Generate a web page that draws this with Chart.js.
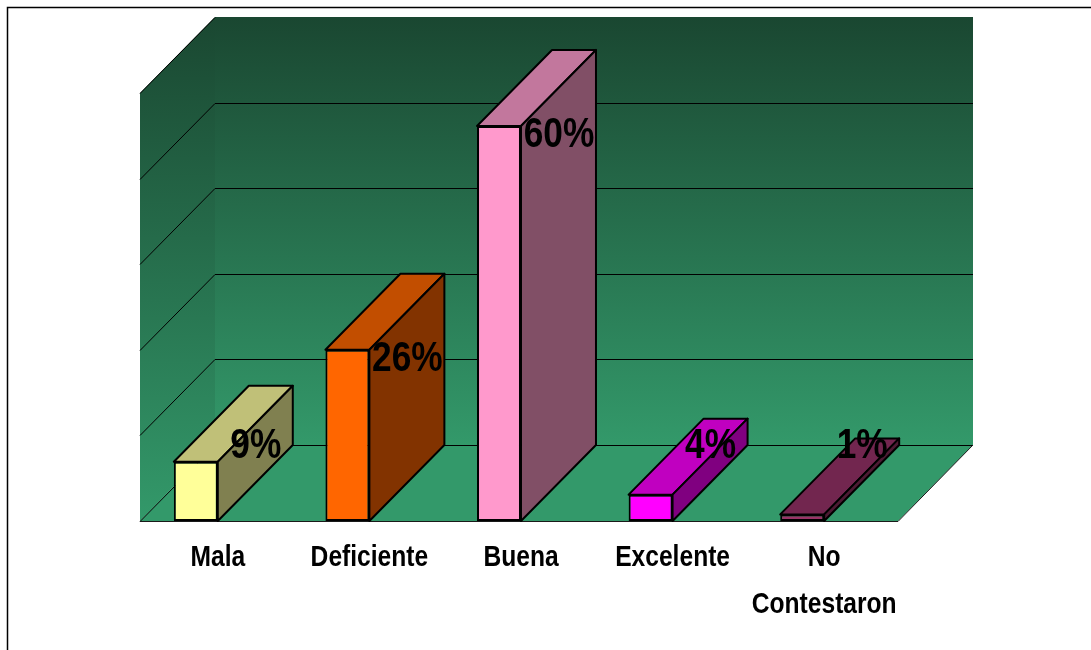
<!DOCTYPE html>
<html>
<head>
<meta charset="utf-8">
<script src="https://cdn.jsdelivr.net/npm/chart.js@4.4.0/dist/chart.umd.min.js"></script>
<style>
html,body{margin:0;padding:0;background:#fff;overflow:hidden;}
#wrap{width:1091px;height:650px;position:relative;}
</style>
</head>
<body>
<div id="wrap"><canvas id="c" width="1091" height="650"></canvas></div>
<script>
// ---- data ----
const categories = ['Mala', 'Deficiente', 'Buena', 'Excelente', ['No', 'Contestaron']];
const percentValues = [9, 26, 60, 4, 1];
const valueLabels = ['9%', '26%', '60%', '4%', '1%'];
const axisMax = 65;
const axisStep = 13;

// ---- styles ----
const frontColors = ['#FFFF99', '#FF6600', '#FF99CC', '#FF00FF', '#993366'];
const topColors   = ['#C0C078', '#C24E00', '#C2779D', '#C000C0', '#72264F'];
const sideColors  = ['#808050', '#823300', '#814F66', '#800080', '#4D1A33'];
const DEPTH_X = 75, DEPTH_Y = -76, SHIFT = 20, LABEL_SHIFT = 22;
const FONT = '"Liberation Sans", Arial, sans-serif';
const NARROW = 0.82;

function poly(ctx, pts, fill, stroke, lw) {
  ctx.beginPath();
  ctx.moveTo(pts[0][0], pts[0][1]);
  for (let i = 1; i < pts.length; i++) ctx.lineTo(pts[i][0], pts[i][1]);
  ctx.closePath();
  if (fill) { ctx.fillStyle = fill; ctx.fill(); }
  if (stroke) { ctx.strokeStyle = stroke; ctx.lineWidth = lw || 1; ctx.stroke(); }
}

// draw horizontally condensed text centred at x
function narrowText(ctx, text, x, y) {
  ctx.save();
  ctx.translate(x, y);
  ctx.scale(NARROW, 1);
  ctx.fillText(text, 0, 0);
  ctx.restore();
}

const scene = {
  id: 'scene',
  beforeDraw(chart) {
    const ctx = chart.ctx;
    ctx.save();
    ctx.fillStyle = '#fff';
    ctx.fillRect(0, 0, chart.width, chart.height);
    ctx.strokeStyle = '#000';
    ctx.lineWidth = 1.5;
    ctx.beginPath();
    ctx.moveTo(7.5, chart.height);
    ctx.lineTo(7.5, 7.5);
    ctx.lineTo(chart.width, 7.5);
    ctx.stroke();
    ctx.restore();
  },
  beforeDatasetsDraw(chart) {
    const ctx = chart.ctx, a = chart.chartArea, y = chart.scales.y;
    const L = a.left + SHIFT, R = a.right + SHIFT;
    const B = y.getPixelForValue(0), T = y.getPixelForValue(axisMax);
    const dx = DEPTH_X, dy = DEPTH_Y;
    ctx.save();
    // back wall
    const g = ctx.createLinearGradient(0, T + dy, 0, B + dy);
    g.addColorStop(0, '#1A4731');
    g.addColorStop(1, '#33996A');
    ctx.fillStyle = g;
    ctx.fillRect(L + dx, T + dy, R - L, B - T);
    // left wall
    const g2 = ctx.createLinearGradient(0, T + dy, 0, B);
    g2.addColorStop(0, '#1A4731');
    g2.addColorStop(1, '#33996A');
    poly(ctx, [[L, B], [L + dx, B + dy], [L + dx, T + dy], [L, T]], g2);
    // floor
    poly(ctx, [[L, B], [R, B], [R + dx, B + dy], [L + dx, B + dy]], '#33996A');
    // grid lines
    const ticks = [];
    for (let v = 0; v <= axisMax + 1e-9; v += axisStep) ticks.push(v);
    ctx.strokeStyle = '#000';
    ctx.lineWidth = 1;
    ticks.forEach(v => {
      const yf = Math.round(y.getPixelForValue(v)) + 0.5;
      ctx.beginPath();
      ctx.moveTo(L, yf);
      ctx.lineTo(L + dx, yf + dy);
      if (v < axisMax - 1e-9) ctx.lineTo(R + dx, yf + dy);
      ctx.stroke();
    });
    // floor front and right edges
    ctx.beginPath();
    ctx.moveTo(L, Math.round(B) + 0.5);
    ctx.lineTo(R, Math.round(B) + 0.5);
    ctx.lineTo(R + dx, B + dy);
    ctx.strokeStyle = '#1a1a1a';
    ctx.stroke();
    ctx.restore();
  },
  afterDatasetsDraw(chart) {
    const ctx = chart.ctx, y = chart.scales.y, x = chart.scales.x;
    const B = y.getPixelForValue(0);
    const dx = DEPTH_X, dy = DEPTH_Y;
    const meta = chart.getDatasetMeta(0);
    ctx.save();
    ctx.lineJoin = 'round';
    meta.data.forEach((bar, i) => {
      const p = bar.getProps(['x', 'y', 'base', 'width'], true);
      const l = p.x - p.width / 2, r = p.x + p.width / 2, top = p.y, base = p.base;
      poly(ctx, [[l, top], [l + dx, top + dy], [r + dx, top + dy], [r, top]], topColors[i], '#000', 2);
      poly(ctx, [[r, top], [r + dx, top + dy], [r + dx, base + dy], [r, base]], sideColors[i], '#000', 2);
    });
    // value labels
    ctx.fillStyle = '#000';
    ctx.font = 'bold 43px ' + FONT;
    ctx.textAlign = 'center';
    ctx.textBaseline = 'alphabetic';
    meta.data.forEach((bar, i) => {
      const p = bar.getProps(['x', 'y'], true);
      const cy = Math.min(p.y + 5, B + dy - 3);
      narrowText(ctx, valueLabels[i], p.x + 60, cy + 16);
    });
    // category labels
    ctx.font = 'bold 30px ' + FONT;
    categories.forEach((lab, i) => {
      const cx = x.getPixelForValue(i) + LABEL_SHIFT;
      const lines = Array.isArray(lab) ? lab : [lab];
      lines.forEach((ln, k) => narrowText(ctx, ln, cx, B + 45 + k * 47));
    });
    ctx.restore();
  }
};

new Chart(document.getElementById('c'), {
  type: 'bar',
  data: {
    labels: categories,
    datasets: [{
      data: percentValues,
      backgroundColor: frontColors,
      borderColor: '#000',
      borderWidth: 2,
      borderSkipped: false,
      barPercentage: 0.29,
      categoryPercentage: 1
    }]
  },
  options: {
    responsive: false,
    animation: false,
    events: [],
    layout: { padding: { left: 120, right: 213, top: 93, bottom: 0 } },
    plugins: { legend: { display: false }, tooltip: { enabled: false } },
    scales: {
      x: {
        grid: { display: false, drawTicks: false },
        border: { display: false },
        ticks: { display: false, autoSkip: false },
        afterFit(scale) { scale.height = 129; }
      },
      y: {
        display: false,
        min: 0,
        max: axisMax,
        ticks: { stepSize: axisStep }
      }
    }
  },
  plugins: [scene]
});
</script>
</body>
</html>
